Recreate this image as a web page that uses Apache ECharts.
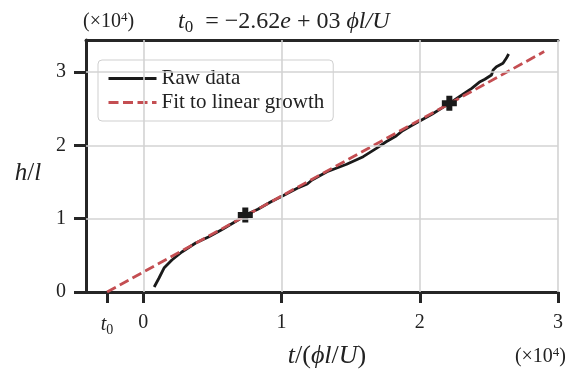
<!DOCTYPE html>
<html>
<head>
<meta charset="utf-8">
<script src="https://cdn.jsdelivr.net/npm/echarts@6/dist/echarts.min.js"></script>
<style>html,body{margin:0;padding:0;background:#fff}#c{width:566px;height:372px}</style>
</head>
<body>
<div id="c"></div>
<script>
// values in units of 1e4
const rawT = [0.079,0.114,0.150,0.207,0.279,0.379,0.471,0.564,0.686,0.738,0.829,0.924,1.007,1.114,1.186,1.221,1.329,1.471,1.591,1.686,1.757,1.829,1.876,1.948,2.091,2.214,2.305,2.376,2.436,2.471,2.519,2.531,2.555,2.602,2.626,2.643];
const rawH = [0.068,0.191,0.327,0.437,0.546,0.668,0.750,0.846,0.982,1.049,1.128,1.232,1.310,1.415,1.473,1.528,1.641,1.742,1.846,1.960,2.050,2.128,2.201,2.278,2.428,2.574,2.688,2.779,2.869,2.902,2.960,3.029,3.074,3.120,3.188,3.247];
const fitT = [-0.262, 2.90];
const fitH = [0, 3.28];
const markT = [0.738, 2.214];
const markH = [1.049, 2.574];
const t0 = -0.262;
const xTicks = [t0, 0, 1, 2, 3];
const yTicks = [0, 1, 2, 3];
const seriesNames = ['Raw data', 'Fit to linear growth'];

const FF = "'Liberation Serif','DejaVu Serif',serif";
const AX = '#262626';
const zip = (a, b) => a.map((v, i) => [v, b[i]]);

const chart = echarts.init(document.getElementById('c'), null, {renderer: 'canvas'});
const plus = 'path://M3,0 H7 V3 H10 V7 H7 V10 H3 V7 H0 V3 H3 Z';

chart.setOption({
  animation: false,
  backgroundColor: '#fff',
  grid: {left: 86, top: 40, right: 2, bottom: 80, containLabel: false},
  xAxis: [{
    type: 'value', min: -0.4143, max: 3, position: 'bottom',
    axisLine: {show: true, onZero: false, lineStyle: {color: AX, width: 3}},
    axisTick: {show: true, length: 11, lineStyle: {color: AX, width: 3}, customValues: xTicks},
    axisLabel: {
      show: true, customValues: xTicks, margin: 21, color: '#222', fontFamily: FF, fontSize: 20,
      formatter: v => Math.abs(v - t0) < 1e-6 ? '{ti|t}{sb|0}' : String(Math.round(v)),
      rich: {
        ti: {fontFamily: FF, fontSize: 20, fontStyle: 'italic', color: '#222'},
        sb: {fontFamily: FF, fontSize: 14, color: '#222', padding: [10, 0, 0, 0]}
      }
    },
    splitLine: {show: false}
  }, {
    type: 'value', min: -0.4143, max: 3, position: 'top',
    axisLine: {show: true, onZero: false, lineStyle: {color: AX, width: 3}},
    axisTick: {show: false}, axisLabel: {show: false}, splitLine: {show: false}
  }],
  yAxis: {
    type: 'value', min: 0, max: 3.438, position: 'left',
    axisLine: {show: true, onZero: false, lineStyle: {color: AX, width: 3}},
    axisTick: {show: true, length: 12, lineStyle: {color: AX, width: 3}, customValues: yTicks},
    axisLabel: {show: true, customValues: yTicks, margin: 20, color: '#222', fontFamily: FF, fontSize: 20,
      formatter: v => String(Math.round(v))},
    splitLine: {show: false}
  },
  legend: {
    data: seriesNames,
    orient: 'vertical', left: 98, top: 60,
    itemWidth: 48, itemHeight: 14, itemGap: 3,
    padding: [8, 9, 8, 9],
    itemStyle: {opacity: 0},
    lineStyle: {width: 3},
    backgroundColor: '#fff', borderColor: '#cfcfcf', borderWidth: 1, borderRadius: 4,
    textStyle: {fontFamily: FF, fontSize: 21, color: '#222', lineHeight: 20}
  },
  series: [{
    name: 'grid', type: 'line', data: [], z: 1, silent: true,
    markLine: {
      silent: true, symbol: ['none', 'none'], label: {show: false}, animation: false,
      lineStyle: {color: '#d3d3d3', type: 'solid', width: 1.6},
      data: [{xAxis: 0}, {xAxis: 1}, {xAxis: 2}, {xAxis: 3}, {yAxis: 1}, {yAxis: 2}, {yAxis: 3}]
    }
  }, {
    name: 'Raw data', type: 'line', data: zip(rawT, rawH), z: 2,
    showSymbol: false, symbol: 'none', smooth: false,
    lineStyle: {color: '#1a1a1a', width: 2.8}, itemStyle: {color: '#1a1a1a'}
  }, {
    name: 'Fit to linear growth', type: 'line', data: zip(fitT, fitH), z: 3,
    showSymbol: false, symbol: 'none',
    lineStyle: {color: '#c44e52', width: 2.8, type: [10, 4.5]}, itemStyle: {color: '#c44e52'}
  }, {
    name: 'markers', type: 'scatter', data: zip(markT, markH), z: 4,
    symbol: plus, symbolSize: 15, itemStyle: {color: '#1a1a1a', opacity: 1}
  }],
  graphic: [
    {type: 'text', x: 83, y: 22, style: {
      text: '{r|(×10}{sup|4}{r|)}', align: 'left', verticalAlign: 'middle',
      rich: {r: {fontFamily: FF, fontSize: 20, fill: '#222'}, sup: {fontFamily: FF, fontSize: 13, fill: '#222', padding: [0, 0, 9, 0]}}
    }},
    {type: 'text', x: 178, y: 22, style: {
      text: '{i|t}{s|0}{r|  = −2.62}{i|e}{r| + 03 }{i|ϕl/U}', align: 'left', verticalAlign: 'middle',
      rich: {
        i: {fontFamily: FF, fontSize: 24, fontStyle: 'italic', fill: '#222'},
        r: {fontFamily: FF, fontSize: 24, fill: '#222'},
        s: {fontFamily: FF, fontSize: 17, fill: '#222', padding: [11, 0, 0, 0]}
      }
    }},
    {type: 'text', x: 327, y: 356, style: {
      text: '{i|t}{r|/(}{i|ϕl}{r|/}{i|U}{r|)}', align: 'center', verticalAlign: 'middle',
      rich: {
        i: {fontFamily: FF, fontSize: 26, fontStyle: 'italic', fill: '#222'},
        r: {fontFamily: FF, fontSize: 26, fill: '#222'}
      }
    }},
    {type: 'text', x: 566, y: 357, style: {
      text: '{r|(×10}{sup|4}{r|)}', align: 'right', verticalAlign: 'middle',
      rich: {r: {fontFamily: FF, fontSize: 20, fill: '#222'}, sup: {fontFamily: FF, fontSize: 13, fill: '#222', padding: [0, 0, 9, 0]}}
    }},
    {type: 'text', x: 28, y: 173, style: {
      text: '{i|h}{r|/}{i|l}', align: 'center', verticalAlign: 'middle',
      rich: {
        i: {fontFamily: FF, fontSize: 25, fontStyle: 'italic', fill: '#222'},
        r: {fontFamily: FF, fontSize: 25, fill: '#222'}
      }
    }}
  ]
});
</script>
</body>
</html>
